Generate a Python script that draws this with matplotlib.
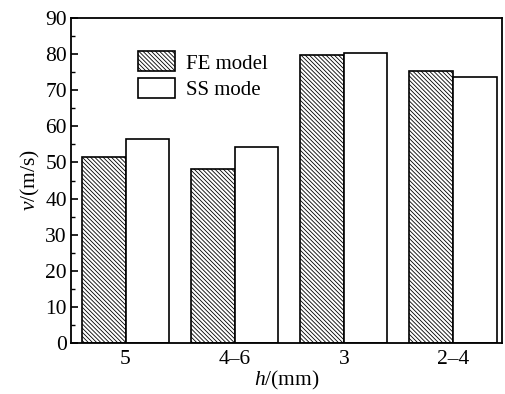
import numpy as np
import matplotlib
matplotlib.use("Agg")
import matplotlib.pyplot as plt
from matplotlib.ticker import MultipleLocator

# data
categories = ["5", "4\u20136", "3", "2\u20134"]
fe_model = [51.5, 48.3, 79.8, 75.4]
ss_mode = [56.5, 54.2, 80.4, 73.6]

plt.rcParams['font.family'] = ['Liberation Serif', 'DejaVu Serif']
plt.rcParams['mathtext.fontset'] = 'custom'
plt.rcParams['mathtext.it'] = 'Liberation Serif:italic'
plt.rcParams['mathtext.rm'] = 'Liberation Serif'
plt.rcParams['hatch.linewidth'] = 0.6

fig = plt.figure(figsize=(5.05, 3.94), dpi=100)
ax = fig.add_axes([71/505, 1 - 343/394, (502-71)/505, (343-18)/394])

x = np.arange(len(categories))
w = 0.4
ax.bar(x, fe_model, width=w, align='edge', facecolor='white', edgecolor='black',
       hatch='\\' * 8, lw=1.2, label='FE model', zorder=2)
ax.bar(x + w, ss_mode, width=w, align='edge', facecolor='white', edgecolor='black',
       lw=1.2, label='SS mode', zorder=2)

ax.set_xlim(-0.1, 3.85)
ax.set_ylim(0, 90)
ax.set_xticks(x + w)
ax.set_xticklabels(categories)
ax.yaxis.set_major_locator(MultipleLocator(10))
ax.yaxis.set_minor_locator(MultipleLocator(5))
ax.tick_params(axis='y', which='major', direction='in', length=5, width=1.2, labelsize=15.5, pad=3)
ax.tick_params(axis='y', which='minor', direction='in', length=3, width=1.0)
ax.tick_params(axis='x', length=0, labelsize=15.5, pad=5)
for s in ax.spines.values():
    s.set_linewidth(1.3)

ax.set_xlabel(r'$h$/(mm)', fontsize=15.5, labelpad=0)
ax.set_ylabel(r'$v$/(m/s)', fontsize=15.5, labelpad=2)

ax.legend(loc='upper left', bbox_to_anchor=(0.156, 0.897), frameon=False, fontsize=15,
          handlelength=1.75, handleheight=1.1, handletextpad=0.55, labelspacing=0.2,
          borderpad=0, borderaxespad=0)

fig.savefig("out.png", dpi=100)
